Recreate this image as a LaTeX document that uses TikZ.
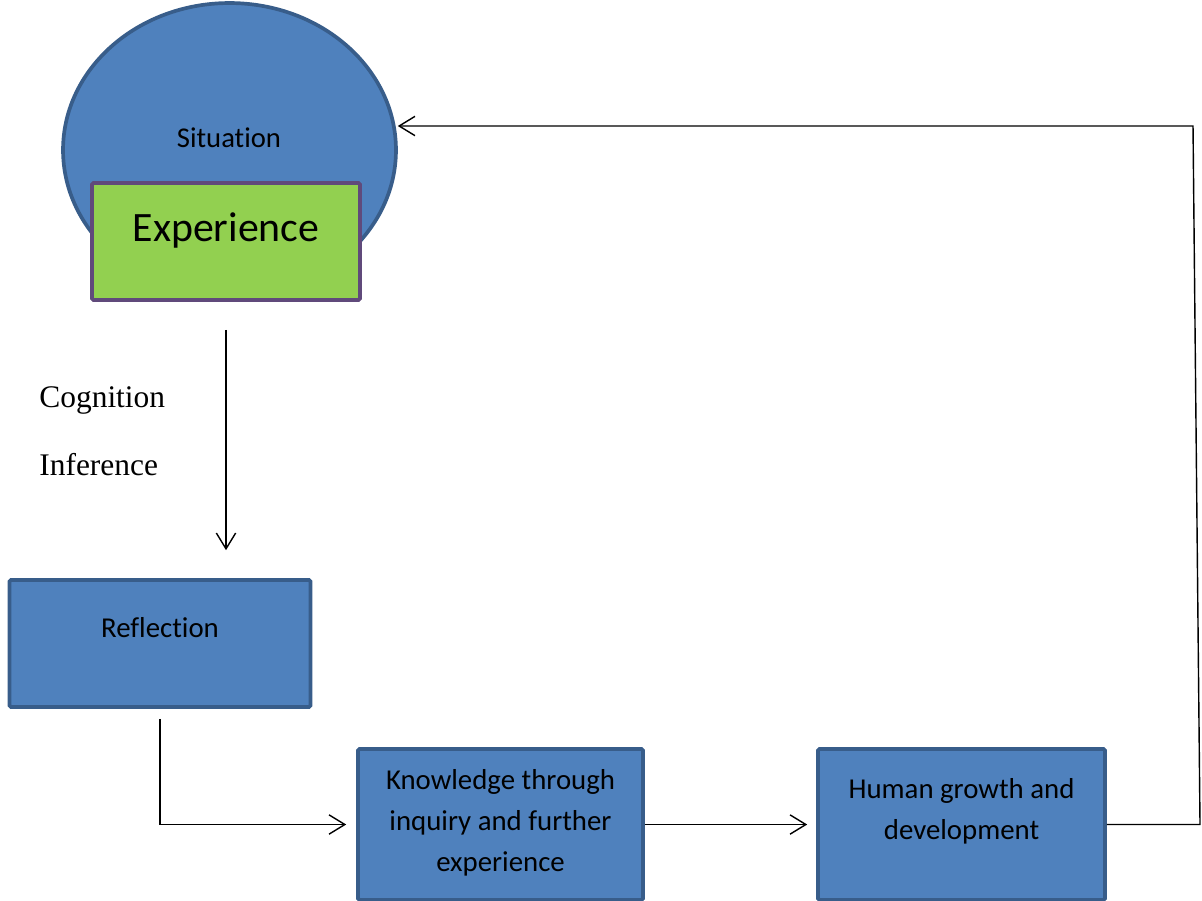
\documentclass[tikz,border=0pt]{standalone}
\usepackage{fontspec}
\setmainfont{Liberation Serif}
\newfontfamily\calfont[Ligatures={NoCommon}]{Carlito}
\usepackage{tikz}
\usetikzlibrary{shapes.geometric,arrows.meta}

\definecolor{boxfill}{HTML}{4F81BD}
\definecolor{boxline}{HTML}{385D8A}
\definecolor{expfill}{HTML}{92D050}
\definecolor{expline}{HTML}{604A7B}

\tikzset{
 bluebox/.style={draw=boxline,fill=boxfill,line width=2.1pt,inner sep=0pt,rounded corners=0.8pt},
 boxtext/.style={font=\calfont\fontsize{16.4}{23.2}\selectfont,align=center},
 conn/.style={line width=0.8pt},
 arr/.style={-{Straight Barb[length=9pt,width=11pt]}}
}

\begin{document}
\begin{tikzpicture}[x=0.02cm,y=-0.02cm]
 \useasboundingbox (0,0) rectangle (1202,900);
 % situation and experience
 \node[ellipse,bluebox,minimum width=6.66cm,minimum height=5.88cm] (sit) at (229.5,150) {};
 \node[font=\calfont\fontsize{16.3}{20}\selectfont] (sitT) at (229,137.5) {Situation};
 \node[draw=expline,fill=expfill,line width=2.1pt,rounded corners=0.8pt,minimum width=5.36cm,minimum height=2.34cm] (exp) at (226,241.5) {};
 \node[font=\calfont\fontsize{23.8}{28}\selectfont] (expT) at (226,230) {Experience};
 % boxes
 \node[bluebox,minimum width=6.02cm,minimum height=2.54cm] (refl) at (160,643.5) {};
 \node[boxtext] (reflT) at (160,627.5) {Reflection};
 \node[bluebox,minimum width=5.7cm,minimum height=3.02cm] (know) at (500.5,824.5) {};
 \node[boxtext] (knowT) at (500.5,823) {Knowledge through\\inquiry and further\\experience};
 \node[bluebox,minimum width=5.74cm,minimum height=3.02cm] (hum) at (961.5,824.5) {};
 \node[boxtext] (humT) at (961.5,811) {Human growth and\\development};
 % side words
 \node[anchor=base west,font=\fontsize{17.9}{20}\selectfont,inner sep=0pt] (cog) at (39,407) {Cognition};
 \node[anchor=base west,font=\fontsize{17.9}{20}\selectfont,inner sep=0pt] (inf) at (39,475) {Inference};
 % connectors
 \coordinate (c1) at (1200,824.5);
 \coordinate (c2) at (1193,126);
 \draw[conn,arr,shorten <=0.56cm,shorten >=0.56cm] (exp.south) -- (exp.south |- refl.north);
 \draw[conn,arr,shorten <=0.2cm,shorten >=0.2cm] (refl.south) |- (know.west);
 \draw[conn,arr,shorten >=0.18cm] (know.east) -- (hum.west);
 \draw[conn,arr] (hum.east) -- (c1) -- (c2) -- (c2 -| sit.east);
\end{tikzpicture}
\end{document}
